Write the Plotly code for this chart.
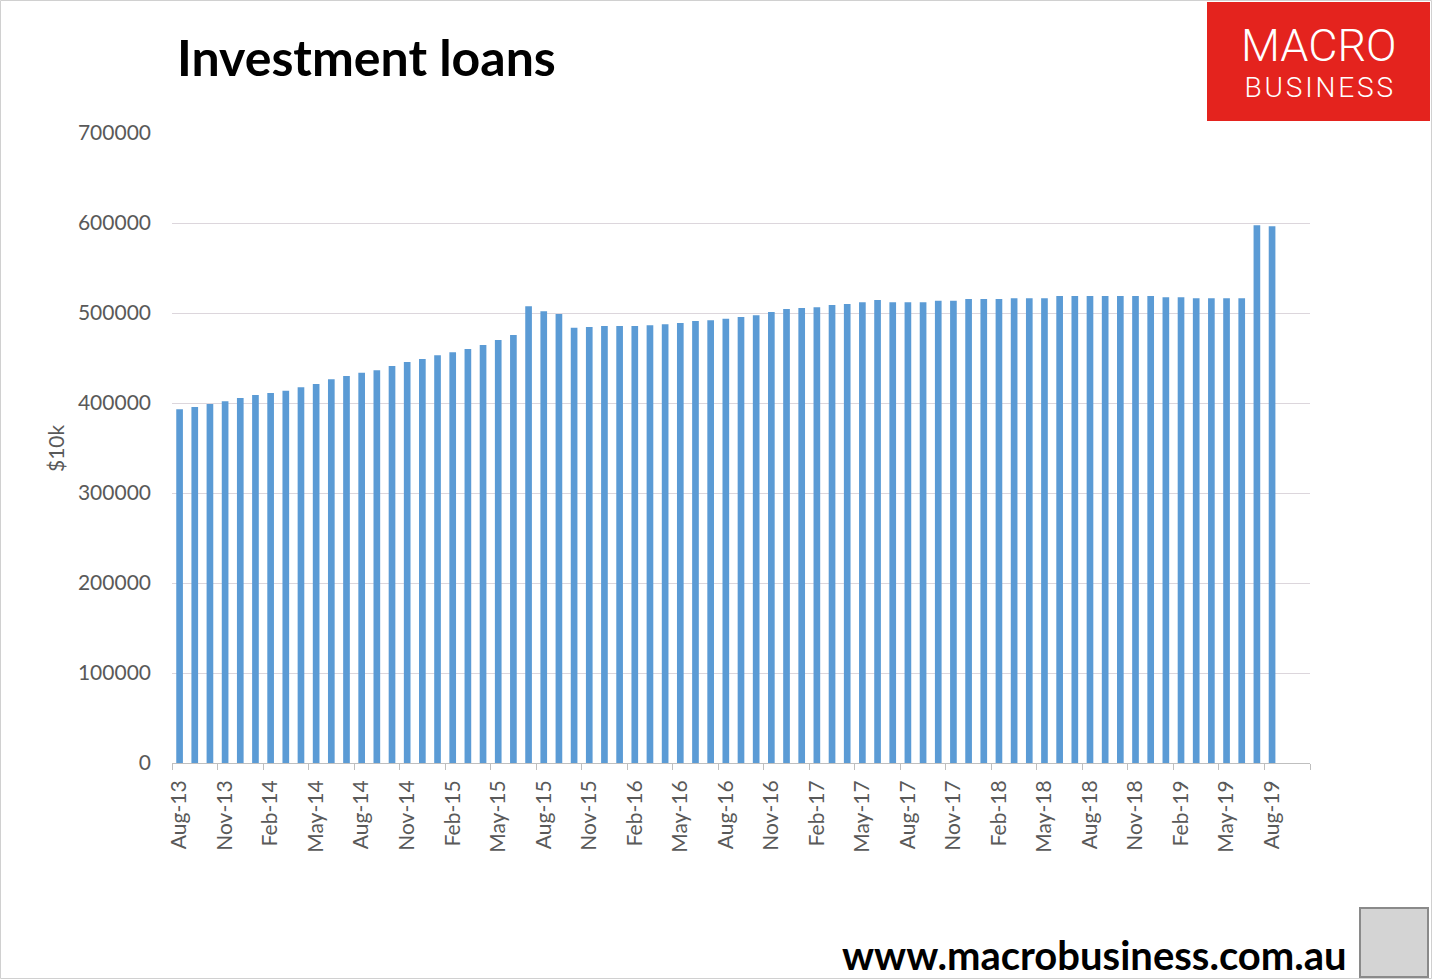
import plotly.graph_objects as go

# ---- data ----
month_names = ["Jan", "Feb", "Mar", "Apr", "May", "Jun",
               "Jul", "Aug", "Sep", "Oct", "Nov", "Dec"]
months = []
m, y = 7, 13  # Aug-13
for _ in range(73):
    months.append(f"{month_names[m]}-{y}")
    m += 1
    if m == 12:
        m, y = 0, y + 1

loans = [
    393000, 395500, 399000, 402000, 405500, 409000, 411000, 413500, 417500, 421000,
    426500, 430000, 433500, 436500, 441000, 445500, 449000, 453000, 456500, 460000,
    464500, 470000, 475500, 507500, 502000, 499000, 483500, 484500, 485500, 485500,
    485500, 486500, 487500, 489000, 491000, 492000, 493500, 495500, 497500, 501000,
    504500, 505500, 506500, 509000, 510000, 512000, 514500, 512000, 512000, 512000,
    513500, 513500, 515500, 515500, 515500, 516500, 516500, 516500, 519000, 519000,
    519000, 519000, 519000, 519000, 519000, 517500, 517500, 516500, 516500, 516500,
    516500, 597500, 596500,
]

title_text = "Investment loans"
y_title = "$10k"
footer_text = "www.macrobusiness.com.au"
logo_top = "MACRO"
logo_bottom = "B\u200aU\u200aS\u200aI\u200aN\u200aE\u200aS\u200aS"

# ---- layout geometry (pixels) ----
W, H = 1433, 980
L, R, T, B = 172, 1310, 133, 763
PW, PH = R - L, B - T


def xp(px):
    return (px - L) / PW


def yp(py):
    return (B - py) / PH


FONT = "Lato"
GREY = "#595959"

fig = go.Figure()
fig.add_trace(go.Bar(
    x=months, y=loans,
    marker=dict(color="#5b9bd5", line=dict(width=0)),
    hoverinfo="x+y",
))

fig.update_layout(
    width=W, height=H,
    margin=dict(l=L, r=W - R, t=T, b=H - B, pad=0),
    paper_bgcolor="white", plot_bgcolor="white",
    bargap=0.56,
    showlegend=False,
    font=dict(family=FONT, color=GREY, size=21),
)

fig.update_xaxes(
    type="category",
    range=[-0.5, 74.5],
    tickmode="linear", tick0=0, dtick=3,
    tickson="boundaries",
    ticks="outside", ticklen=6, tickcolor="#bfbfbf", tickwidth=1,
    tickangle=-90,
    ticklabelstandoff=8,
    tickfont=dict(family=FONT, size=21, color=GREY),
    showline=True, linecolor="#bfbfbf", linewidth=1,
    showgrid=False, zeroline=False,
)

fig.update_yaxes(
    range=[0, 700000],
    tickmode="linear", tick0=0, dtick=100000,
    tickformat="d",
    showgrid=True, gridcolor="#dcd6dc", gridwidth=1,
    zeroline=False, showline=False,
    ticks="", ticklabelstandoff=20,
    tickfont=dict(family=FONT, size=21, color=GREY),
)

annotations = [
    dict(text=f"<b>{title_text}</b>", x=xp(175), y=yp(57), xref="paper", yref="paper",
         xanchor="left", yanchor="middle", showarrow=False,
         font=dict(family=FONT, size=50, color="black")),
    dict(text=y_title, x=xp(55), y=yp(448), xref="paper", yref="paper",
         xanchor="center", yanchor="middle", textangle=-90, showarrow=False,
         font=dict(family=FONT, size=21, color=GREY)),
    dict(text=f"<b>{footer_text}</b>", x=xp(1094), y=yp(955), xref="paper", yref="paper",
         xanchor="center", yanchor="middle", showarrow=False,
         font=dict(family=FONT, size=40, color="black")),
    dict(text=f"<span style='font-size:45px'>{logo_top}</span><br>{logo_bottom}",
         x=xp(1319), y=yp(62), xref="paper", yref="paper",
         xanchor="center", yanchor="middle", showarrow=False, align="center",
         font=dict(family="Roboto", size=28, color="white", weight=300)),
]
fig.update_layout(annotations=annotations)

shapes = [
    # page border
    dict(type="rect", xref="paper", yref="paper", x0=xp(0.5), x1=xp(W - 1.5),
         y0=yp(0.5), y1=yp(H - 1.5), line=dict(color="#d0d0d0", width=1),
         fillcolor="rgba(0,0,0,0)", layer="below"),
    # logo box
    dict(type="rect", xref="paper", yref="paper", x0=xp(1207), x1=xp(1430),
         y0=yp(2), y1=yp(121), line=dict(width=0), fillcolor="#e4231e", layer="above"),
    # fox badge placeholder
    dict(type="rect", xref="paper", yref="paper", x0=xp(1360), x1=xp(1428),
         y0=yp(908), y1=yp(977), line=dict(color="#8a8a8a", width=2),
         fillcolor="#d4d4d4", layer="above"),
]
fig.update_layout(shapes=shapes)

fig.write_html(
    "out.html",
    config={"displayModeBar": False},
    post_script="document.body.style.margin='0';document.body.style.overflow='hidden';",
)
